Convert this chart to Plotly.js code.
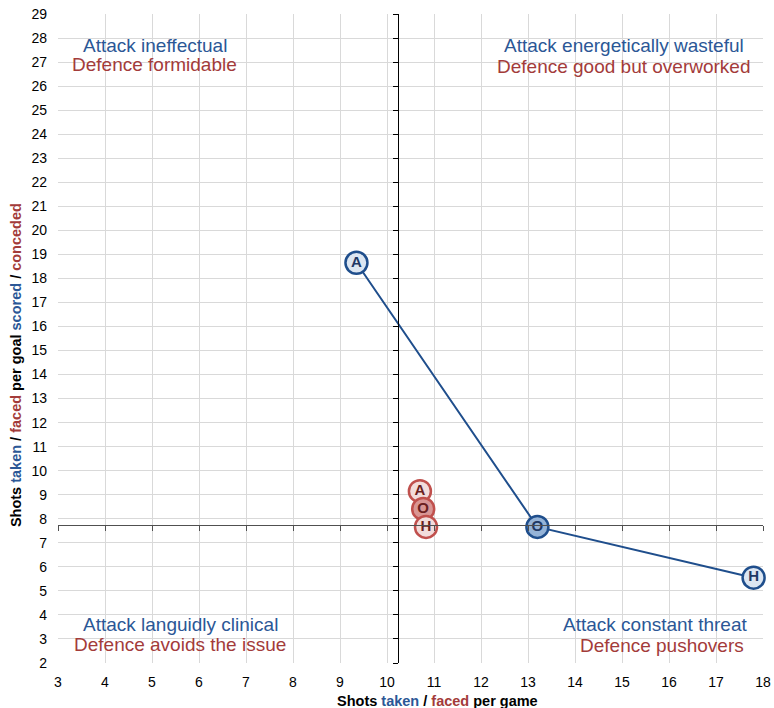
<!DOCTYPE html>
<html><head><meta charset="utf-8">
<script src="https://cdn.plot.ly/plotly-3.0.1.min.js"></script>
<style>html,body{margin:0;padding:0;background:#fff}#chart{width:774px;height:708px}</style>
</head><body><div id="chart"></div>
<script>
// Data
const labels = ["A", "O", "H"];
const attackX = [9.35, 13.2, 17.8];   // shots taken per game
const attackY = [18.65, 7.66, 5.55];  // shots taken per goal scored
const defenceX = [10.7, 10.77, 10.83]; // shots faced per game
const defenceY = [9.15, 8.41, 7.66];   // shots faced per goal conceded
const crossX = 10.23;
const crossY = 7.75;
const xRange = [3, 18];
const yRange = [2, 29];
const quadAttack = ["Attack ineffectual", "Attack energetically wasteful", "Attack languidly clinical", "Attack constant threat"];
const quadDefence = ["Defence formidable", "Defence good but overworked", "Defence avoids the issue", "Defence pushovers"];
const quadAttackPos = [[5.06, 27.71], [15.04, 27.71], [5.6, 3.62], [15.7, 3.62]];
const quadDefencePos = [[5.06, 26.92], [15.04, 26.83], [5.6, 2.75], [15.85, 2.71]];

const BLUE = "#2b5796", RED = "#a33b3a";
const font = "Liberation Sans, Arial, sans-serif";

const traces = [
  {
    x: attackX, y: attackY, text: labels, mode: "lines+markers+text",
    line: {color: "#1f4e8c", width: 2},
    marker: {size: 22, color: ["#dce6f2", "#95b3d7", "#dce6f2"], line: {color: "#1f4e8c", width: 2.5}},
    textfont: {family: font, size: 15, color: "#1f3864", weight: "bold"},
    textposition: "middle center", hoverinfo: "none", cliponaxis: false
  },
  {
    x: defenceX, y: defenceY, text: labels, mode: "markers+text",
    marker: {size: 22, color: ["#f2dcdb", "#d99694", "#f2dcdb"], line: {color: "#c0504d", width: 2.5}},
    textfont: {family: font, size: 15, color: "#6b1f1f", weight: "bold"},
    textposition: "middle center", hoverinfo: "none", cliponaxis: false
  }
];

const annotations = [];
quadAttack.forEach((t, i) => annotations.push({x: quadAttackPos[i][0], y: quadAttackPos[i][1], xref: "x", yref: "y",
  text: t, showarrow: false, font: {family: font, size: 19, color: BLUE}}));
quadDefence.forEach((t, i) => annotations.push({x: quadDefencePos[i][0], y: quadDefencePos[i][1], xref: "x", yref: "y",
  text: t, showarrow: false, font: {family: font, size: 19, color: RED}}));
annotations.push({xref: "paper", yref: "paper", x: 0.5376, y: 0, yanchor: "top", yshift: -28, showarrow: false,
  text: `<b>Shots <span style="color:${BLUE}">taken</span> / <span style="color:${RED}">faced</span> per game</b>`,
  font: {family: font, size: 14.5, color: "#000"}});
annotations.push({xref: "paper", yref: "paper", x: 0, y: 0.459, xanchor: "right", xshift: -32, textangle: -90, showarrow: false,
  text: `<b>Shots <span style="color:${BLUE}">taken</span> / <span style="color:${RED}">faced</span> per goal <span style="color:${BLUE}">scored</span> / <span style="color:${RED}">conceded</span></b>`,
  font: {family: font, size: 14.5, color: "#000"}});

const layout = {
  width: 774, height: 708,
  margin: {l: 58, r: 11, t: 14, b: 45},
  paper_bgcolor: "#fff", plot_bgcolor: "#fff",
  showlegend: false,
  xaxis: {
    range: xRange, dtick: 1, tick0: 3, showgrid: true, gridcolor: "#d9d9d9", gridwidth: 1,
    zeroline: false, showline: false, ticks: "", ticklabelstandoff: 9,
    tickfont: {family: font, size: 14, color: "#000"}
  },
  yaxis: {
    range: yRange, dtick: 1, tick0: 2, showgrid: true, gridcolor: "#d9d9d9", gridwidth: 1,
    zeroline: false, showline: false, ticks: "", ticklabelstandoff: 10,
    tickfont: {family: font, size: 14, color: "#000"}
  },
  xaxis2: {
    overlaying: "x", anchor: "free", position: (crossY - yRange[0]) / (yRange[1] - yRange[0]),
    range: xRange, dtick: 1, tick0: 3, showgrid: false, zeroline: false, showticklabels: false,
    showline: true, linecolor: "#505050", linewidth: 1.3, ticks: "outside", ticklen: 5, tickcolor: "#505050"
  },
  yaxis2: {
    overlaying: "y", anchor: "free", position: (crossX - xRange[0]) / (xRange[1] - xRange[0]),
    range: yRange, dtick: 1, tick0: 2, showgrid: false, zeroline: false, showticklabels: false,
    showline: true, linecolor: "#000", linewidth: 1.3, ticks: "outside", ticklen: 5, tickcolor: "#000"
  },
  annotations: annotations
};

traces.push({x: [xRange[0]], y: [yRange[0]], xaxis: "x2", yaxis: "y2", mode: "markers",
  marker: {opacity: 0}, hoverinfo: "none"});

Plotly.newPlot("chart", traces, layout, {displayModeBar: false, staticPlot: true});
</script></body></html>
